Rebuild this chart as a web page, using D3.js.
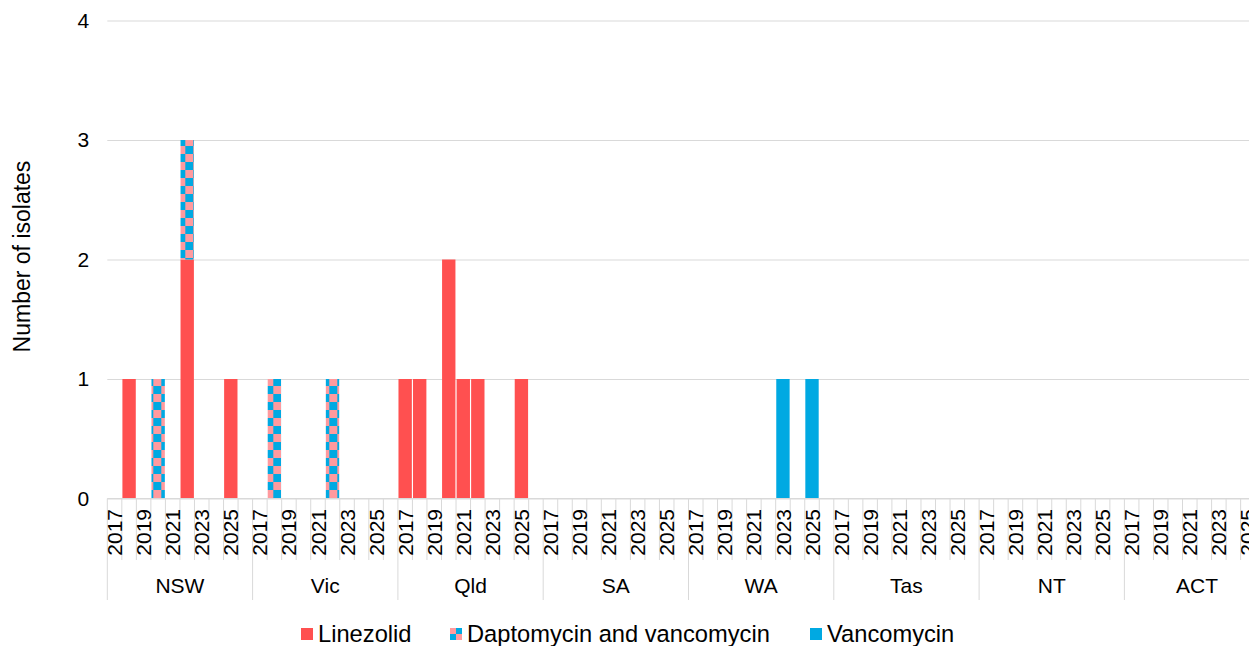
<!DOCTYPE html>
<html>
<head>
<meta charset="utf-8">
<script src="https://cdn.jsdelivr.net/npm/d3@7"></script>
<style>
  body { margin: 0; background: #fff; }
  svg { display: block; }
  text { font-family: "Liberation Sans", Arial, sans-serif; fill: #000; }
</style>
</head>
<body>
<svg id="chart" width="1249" height="646"></svg>
<script>
// ---- Data -------------------------------------------------------------
const states = ["NSW", "Vic", "Qld", "SA", "WA", "Tas", "NT", "ACT"];
const years = ["2017", "2018", "2019", "2020", "2021", "2022", "2023", "2024", "2025"];
const labelledYears = ["2017", "2019", "2021", "2023", "2025"];
const yTicks = [0, 1, 2, 3, 4];
const seriesNames = ["Linezolid", "Daptomycin and vancomycin", "Vancomycin"];

// Isolates per state (rows) and year 2017–2025 (columns)
const linezolid = [
  [0, 1, 0, 0, 0, 2, 0, 0, 1], // NSW
  [0, 0, 0, 0, 0, 0, 0, 0, 0], // Vic
  [1, 1, 0, 2, 1, 1, 0, 0, 1], // Qld
  [0, 0, 0, 0, 0, 0, 0, 0, 0], // SA
  [0, 0, 0, 0, 0, 0, 0, 0, 0], // WA
  [0, 0, 0, 0, 0, 0, 0, 0, 0], // Tas
  [0, 0, 0, 0, 0, 0, 0, 0, 0], // NT
  [0, 0, 0, 0, 0, 0, 0, 0, 0]  // ACT
];
const daptoVanco = [
  [0, 0, 0, 1, 0, 1, 0, 0, 0], // NSW
  [0, 1, 0, 0, 0, 1, 0, 0, 0], // Vic
  [0, 0, 0, 0, 0, 0, 0, 0, 0], // Qld
  [0, 0, 0, 0, 0, 0, 0, 0, 0], // SA
  [0, 0, 0, 0, 0, 0, 0, 0, 0], // WA
  [0, 0, 0, 0, 0, 0, 0, 0, 0], // Tas
  [0, 0, 0, 0, 0, 0, 0, 0, 0], // NT
  [0, 0, 0, 0, 0, 0, 0, 0, 0]  // ACT
];
const vancomycin = [
  [0, 0, 0, 0, 0, 0, 0, 0, 0], // NSW
  [0, 0, 0, 0, 0, 0, 0, 0, 0], // Vic
  [0, 0, 0, 0, 0, 0, 0, 0, 0], // Qld
  [0, 0, 0, 0, 0, 0, 0, 0, 0], // SA
  [0, 0, 0, 0, 0, 0, 1, 0, 1], // WA
  [0, 0, 0, 0, 0, 0, 0, 0, 0], // Tas
  [0, 0, 0, 0, 0, 0, 0, 0, 0], // NT
  [0, 0, 0, 0, 0, 0, 0, 0, 0]  // ACT
];

// ---- Layout -----------------------------------------------------------
const W = 1249, H = 646;
const plotLeft = 107.3, plotTop = 20.5, plotBottom = 498.5;
const groupW = 145.3;            // each state spans ten year slots (nine used)
const slotsPerGroup = 10;
const slot = groupW / slotsPerGroup;

const colors = {
  "Linezolid": "#FF5050",
  "Vancomycin": "#00A9E2",
  pink: "#FF9A9E"
};
const gridColor = "#D9D9D9";

const svg = d3.select("#chart");

// Checkerboard fill for the combined daptomycin/vancomycin series
const defs = svg.append("defs");
const pat = defs.append("pattern")
  .attr("id", "checker")
  .attr("patternUnits", "userSpaceOnUse")
  .attr("x", 1.3).attr("y", 2)
  .attr("width", 16).attr("height", 16);
pat.append("rect").attr("width", 16).attr("height", 16).attr("fill", colors.pink);
pat.append("rect").attr("x", 8).attr("y", 0).attr("width", 8).attr("height", 8).attr("fill", colors.Vancomycin);
pat.append("rect").attr("x", 0).attr("y", 8).attr("width", 8).attr("height", 8).attr("fill", colors.Vancomycin);

const fillFor = {
  "Linezolid": colors.Linezolid,
  "Daptomycin and vancomycin": "url(#checker)",
  "Vancomycin": colors.Vancomycin
};

// ---- Scales -----------------------------------------------------------
const xGroup = d3.scaleBand()
  .domain(states)
  .range([plotLeft, plotLeft + groupW * states.length])
  .padding(0);

const xYear = d3.scaleBand()
  .domain(years)
  .range([0, slot * years.length])
  .paddingInner(0.08)
  .paddingOuter(0.04);

const y = d3.scaleLinear().domain([0, 4]).range([plotBottom, plotTop]);

// ---- Gridlines & y axis ----------------------------------------------
const yAxis = d3.axisLeft(y)
  .tickValues(yTicks)
  .tickFormat(d3.format("d"))
  .tickSize(-(W - plotLeft))
  .tickPadding(18);

const gy = svg.append("g")
  .attr("transform", `translate(${plotLeft},0)`)
  .call(yAxis);
gy.select(".domain").remove();
gy.selectAll(".tick line").attr("stroke", gridColor).attr("stroke-width", 1);
gy.selectAll(".tick text")
  .style("font-size", "21px")
  .attr("fill", "#000");

svg.append("text")
  .attr("transform", `translate(22,${(plotTop + plotBottom) / 2 - 3}) rotate(-90)`)
  .attr("text-anchor", "middle")
  .attr("dy", "0.35em")
  .style("font-size", "23px")
  .text("Number of isolates");

// ---- Bars -------------------------------------------------------------
const rows = [];
states.forEach((s, si) => {
  years.forEach((yr, yi) => {
    rows.push({
      state: s, year: yr,
      "Linezolid": linezolid[si][yi],
      "Daptomycin and vancomycin": daptoVanco[si][yi],
      "Vancomycin": vancomycin[si][yi]
    });
  });
});

const stacked = d3.stack().keys(seriesNames)(rows);

svg.append("g")
  .selectAll("g")
  .data(stacked)
  .join("g")
  .attr("fill", d => fillFor[d.key])
  .selectAll("rect")
  .data(d => d.filter(p => p[1] - p[0] > 0))
  .join("rect")
  .attr("x", p => xGroup(p.data.state) + xYear(p.data.year))
  .attr("width", xYear.bandwidth())
  .attr("y", p => y(p[1]))
  .attr("height", p => y(p[0]) - y(p[1]));

// ---- Category axis (year slots within state groups) --------------------
const axisG = svg.append("g");

axisG.append("line")
  .attr("x1", plotLeft).attr("x2", W)
  .attr("y1", plotBottom).attr("y2", plotBottom)
  .attr("stroke", gridColor).attr("stroke-width", 1);

states.forEach(s => {
  const gx = xGroup(s);
  // slot dividers
  d3.range(1, slotsPerGroup).forEach(i => {
    axisG.append("line")
      .attr("x1", gx + i * slot).attr("x2", gx + i * slot)
      .attr("y1", plotBottom).attr("y2", 560)
      .attr("stroke", gridColor).attr("stroke-width", 1);
  });
  // group divider
  axisG.append("line")
    .attr("x1", gx).attr("x2", gx)
    .attr("y1", plotBottom).attr("y2", 600)
    .attr("stroke", gridColor).attr("stroke-width", 1);

  labelledYears.forEach(yr => {
    const cx = gx + xYear(yr) + xYear.bandwidth() / 2;
    axisG.append("text")
      .attr("transform", `translate(${cx},509) rotate(-90)`)
      .attr("text-anchor", "end")
      .attr("dy", "0.36em")
      .style("font-size", "21px")
      .text(yr);
  });

  axisG.append("text")
    .attr("x", gx + groupW / 2)
    .attr("y", 593)
    .attr("text-anchor", "middle")
    .style("font-size", "21px")
    .text(s);
});

// ---- Legend -----------------------------------------------------------
const legendItems = [
  { name: "Linezolid", x: 301 },
  { name: "Daptomycin and vancomycin", x: 450 },
  { name: "Vancomycin", x: 810 }
];
const lg = svg.append("g");
legendItems.forEach(it => {
  const sw = 12, sy = 628;
  if (it.name === "Daptomycin and vancomycin") {
    const h = sw / 2;
    [[0, 0, colors.pink], [h, 0, colors.Vancomycin], [0, h, colors.Vancomycin], [h, h, colors.pink]]
      .forEach(([dx, dy, c]) => lg.append("rect")
        .attr("x", it.x + dx).attr("y", sy + dy)
        .attr("width", h).attr("height", h).attr("fill", c));
  } else {
    lg.append("rect")
      .attr("x", it.x).attr("y", sy)
      .attr("width", sw).attr("height", sw)
      .attr("fill", fillFor[it.name]);
  }
  lg.append("text")
    .attr("x", it.x + sw + 5)
    .attr("y", 642)
    .style("font-size", "23.7px")
    .text(it.name);
});
</script>
</body>
</html>
